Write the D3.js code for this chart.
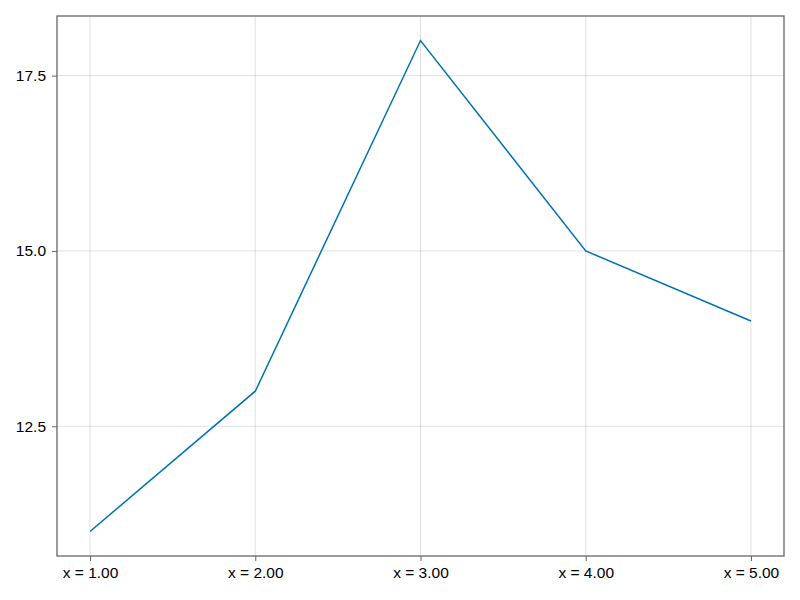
<!DOCTYPE html>
<meta charset="utf-8">
<style>
    body { margin: 0; background: #fff; }
    .grid line { stroke: #000; stroke-opacity: 0.12; }
    .axis text { font-family: "Liberation Sans", Arial, sans-serif; font-size: 15.5px; fill: #000; }
    .axis line { stroke: #666; stroke-width: 1px; }
    .axis path { display: none; }
    .frame { fill: none; stroke: #666; stroke-width: 1.3px; }
    .lineChart { fill: none; stroke: #0072b2; stroke-width: 1.5px; }
</style>
<svg width="800" height="600"></svg>
<script src="https://d3js.org/d3.v7.min.js"></script>
<script>
    var xValues = [1, 2, 3, 4, 5];
    var yValues = [11, 13, 18, 15, 14];
    var yTicks = [12.5, 15.0, 17.5];

    var margin = { left: 57, top: 16, right: 16, bottom: 44 };
    var svg = d3.select("svg");
    var width = 800 - margin.left - margin.right;
    var height = 600 - margin.top - margin.bottom;

    var g = svg.append("g")
        .attr("transform", "translate(" + margin.left + "," + margin.top + ")");

    // 5% padding on each side, like the original
    var xExt = d3.extent(xValues), yExt = d3.extent(yValues);
    var xPad = (xExt[1] - xExt[0]) * 0.05, yPad = (yExt[1] - yExt[0]) * 0.05;

    var xScale = d3.scaleLinear()
        .domain([xExt[0] - xPad, xExt[1] + xPad])
        .range([0, width]);

    var yScale = d3.scaleLinear()
        .domain([yExt[0] - yPad, yExt[1] + yPad])
        .range([height, 0]);

    g.append("g")
        .attr("class", "grid")
        .selectAll("line")
        .data(xValues)
        .enter().append("line")
        .attr("x1", function (d) { return xScale(d); })
        .attr("x2", function (d) { return xScale(d); })
        .attr("y1", 0).attr("y2", height);

    g.append("g")
        .attr("class", "grid")
        .selectAll("line")
        .data(yTicks)
        .enter().append("line")
        .attr("y1", function (d) { return yScale(d); })
        .attr("y2", function (d) { return yScale(d); })
        .attr("x1", 0).attr("x2", width);

    g.append("g")
        .attr("class", "axis")
        .attr("transform", "translate(0," + height + ")")
        .call(d3.axisBottom(xScale)
            .tickValues(xValues)
            .tickSize(5)
            .tickPadding(6)
            .tickFormat(function (d) { return "x = " + d3.format(".2f")(d); }));

    g.append("g")
        .attr("class", "axis")
        .call(d3.axisLeft(yScale)
            .tickValues(yTicks)
            .tickSize(5)
            .tickPadding(6)
            .tickFormat(d3.format(".1f")));

    var line = d3.line()
        .x(function (d, i) { return xScale(xValues[i]); })
        .y(function (d) { return yScale(d); });

    g.append("path")
        .datum(yValues)
        .attr("class", "lineChart")
        .attr("d", line);

    g.append("rect")
        .attr("class", "frame")
        .attr("width", width)
        .attr("height", height);
</script>
